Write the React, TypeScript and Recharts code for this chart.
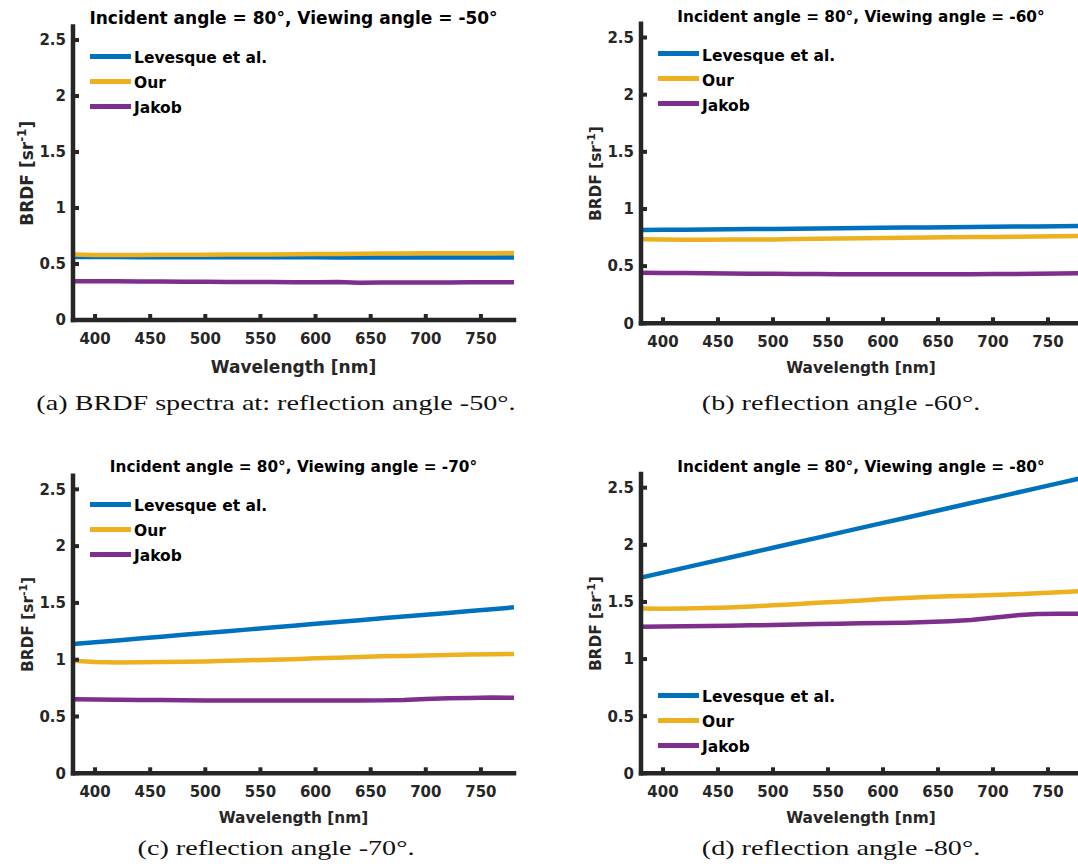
import React from "react";
import { LineChart, Line, XAxis, YAxis, Legend } from "recharts";

const wavelengths = [
  380, 400, 420, 440, 460, 480, 500, 520, 540, 560, 580, 600, 620, 640, 660,
  680, 700, 720, 740, 760, 780,
];

// viewing angle -50°
const levesque50 = [
  0.562, 0.562, 0.562, 0.561, 0.561, 0.561, 0.561, 0.56, 0.56, 0.56, 0.56,
  0.56, 0.559, 0.559, 0.559, 0.559, 0.559, 0.558, 0.558, 0.558, 0.558,
];
const our50 = [
  0.584, 0.581, 0.58, 0.581, 0.582, 0.582, 0.583, 0.584, 0.585, 0.586, 0.588,
  0.589, 0.59, 0.591, 0.593, 0.594, 0.595, 0.596, 0.596, 0.597, 0.598,
];
const jakob50 = [
  0.347, 0.346, 0.345, 0.344, 0.343, 0.342, 0.341, 0.34, 0.339, 0.339, 0.338,
  0.338, 0.339, 0.333, 0.334, 0.334, 0.335, 0.335, 0.336, 0.337, 0.337,
];

// viewing angle -60°
const levesque60 = [
  0.816, 0.818, 0.819, 0.821, 0.823, 0.825, 0.826, 0.828, 0.83, 0.832, 0.834,
  0.835, 0.837, 0.839, 0.84, 0.842, 0.844, 0.846, 0.847, 0.849, 0.851,
];
const our60 = [
  0.735, 0.733, 0.731, 0.731, 0.732, 0.733, 0.734, 0.737, 0.739, 0.741, 0.744,
  0.746, 0.748, 0.75, 0.752, 0.754, 0.756, 0.758, 0.759, 0.761, 0.764,
];
const jakob60 = [
  0.443, 0.441, 0.439, 0.437, 0.435, 0.434, 0.433, 0.432, 0.431, 0.43, 0.429,
  0.429, 0.428, 0.428, 0.429, 0.43, 0.431, 0.432, 0.434, 0.436, 0.437,
];

// viewing angle -70°
const levesque70 = [
  1.138, 1.154, 1.17, 1.186, 1.203, 1.219, 1.235, 1.251, 1.267, 1.283, 1.3,
  1.316, 1.332, 1.348, 1.364, 1.38, 1.396, 1.412, 1.429, 1.445, 1.461,
];
const our70 = [
  0.99, 0.98, 0.975, 0.978, 0.98, 0.982, 0.985, 0.99, 0.995, 1.0, 1.005,
  1.012, 1.018, 1.024, 1.03, 1.032, 1.038, 1.042, 1.045, 1.047, 1.05,
];
const jakob70 = [
  0.652, 0.65, 0.648, 0.646, 0.645, 0.643, 0.641, 0.641, 0.641, 0.64, 0.64,
  0.64, 0.641, 0.641, 0.642, 0.646, 0.655, 0.66, 0.664, 0.667, 0.665,
];

// viewing angle -80°
const levesque80 = [
  1.713, 1.757, 1.8, 1.844, 1.887, 1.931, 1.974, 2.018, 2.061, 2.105, 2.148,
  2.192, 2.235, 2.279, 2.322, 2.366, 2.409, 2.453, 2.496, 2.54, 2.583,
];
const our80 = [
  1.443, 1.44, 1.442, 1.446, 1.452, 1.46, 1.47, 1.48, 1.492, 1.502, 1.512,
  1.525, 1.535, 1.543, 1.55, 1.555, 1.56, 1.568, 1.576, 1.585, 1.595,
];
const jakob80 = [
  1.283, 1.285, 1.287, 1.289, 1.292, 1.295, 1.298, 1.302, 1.306, 1.31, 1.313,
  1.315, 1.318, 1.325, 1.332, 1.342, 1.362, 1.382, 1.394, 1.396, 1.398,
];

const xTicks = [400, 450, 500, 550, 600, 650, 700, 750];
const yTicks = [0, 0.5, 1, 1.5, 2, 2.5];

const seriesNames = ["Levesque et al.", "Our", "Jakob"];
const seriesColors = ["#0072BD", "#EDB120", "#7E2F8E"];

const viewingAngles = [-50, -60, -70, -80];
const captions = [
  "(a) BRDF spectra at: reflection angle -50°.",
  "(b) reflection angle -60°.",
  "(c) reflection angle -70°.",
  "(d) reflection angle -80°.",
];

const SANS = "'DejaVu Sans', sans-serif";
const SERIF = "'Liberation Serif', serif";
const INK = "#262626";
const Y_W = 73;

function rows(lev: number[], our: number[], jak: number[]) {
  return wavelengths.map((wl, i) => ({
    wl,
    lev: lev[i],
    our: our[i],
    jakob: jak[i],
  }));
}

// page-space placement of each subplot
const panels = [
  {
    data: rows(levesque50, our50, jakob50),
    x0: 73, x1: 514, y0: 26.6, y1: 320, top: 0,
    big: true, legendTop: 43.5, titleY: 23.5, capX: 276, capY: 410,
  },
  {
    data: rows(levesque60, our60, jakob60),
    x0: 641, x1: 1081, y0: 23.8, y1: 323.3, top: 0,
    big: false, legendTop: 41, titleY: 22, capX: 841, capY: 410,
  },
  {
    data: rows(levesque70, our70, jakob70),
    x0: 73, x1: 514, y0: 475.7, y1: 773.3, top: 440,
    big: false, legendTop: 491.5, titleY: 472, capX: 276, capY: 855,
  },
  {
    data: rows(levesque80, our80, jakob80),
    x0: 641, x1: 1081, y0: 474, y1: 773.3, top: 440,
    big: false, legendTop: 682.5, titleY: 472, capX: 841, capY: 855,
  },
];

function LegendRows({ payload }: any) {
  // keep the plotting order, not the alphabetical one
  const items = [...(payload ?? [])].sort(
    (a: any, b: any) => seriesNames.indexOf(a.value) - seriesNames.indexOf(b.value)
  );
  return (
    <div>
      {items.map((entry: any) => (
        <div
          key={entry.value}
          style={{ display: "flex", alignItems: "center", height: 25 }}
        >
          <span
            style={{
              display: "inline-block",
              width: 41,
              height: 5,
              background: entry.color,
              marginRight: 3,
            }}
          />
          <span
            style={{
              position: "relative",
              top: 2,
              fontFamily: SANS,
              fontWeight: 700,
              fontSize: 15.5,
              color: "#000",
              whiteSpace: "nowrap",
            }}
          >
            {entry.value}
          </span>
        </div>
      ))}
    </div>
  );
}

function Panel({ p }: { p: (typeof panels)[number] }) {
  const chartLeft = p.x0 - Y_W;
  const chartTop = p.top;
  const width = p.x1 - chartLeft + 10;
  const height = p.y1 - chartTop + 60;
  const plotW = p.x1 - p.x0;
  const plotH = p.y1 - p.y0;
  const py = p.y0 - chartTop;
  const labelSize = p.big ? 17 : 15.4;
  const tickStyle = {
    fill: INK,
    fontSize: 15,
    fontFamily: SANS,
    fontWeight: 700,
  };
  const axisLine = {
    stroke: INK,
    strokeWidth: 4.5,
    strokeLinecap: "square" as const,
  };
  const tickLine = { stroke: INK, strokeWidth: 4 };

  const xLabel = () => (
    <text
      x={Y_W + plotW / 2}
      y={py + plotH + (p.big ? 52.5 : 50)}
      textAnchor="middle"
      fontFamily={SANS}
      fontWeight={700}
      fontSize={labelSize}
      fill={INK}
    >
      Wavelength [nm]
    </text>
  );

  const lx = Y_W - 40;
  const ly = py + plotH / 2;
  const yLabel = () => (
    <text
      transform={`rotate(-90 ${lx} ${ly})`}
      x={lx}
      y={ly}
      textAnchor="middle"
      fontFamily={SANS}
      fontWeight={700}
      fontSize={labelSize}
      fill={INK}
    >
      BRDF [sr
      <tspan dy={-0.42 * labelSize} fontSize={labelSize * 0.7}>
        -1
      </tspan>
      <tspan dy={0.42 * labelSize}>]</tspan>
    </text>
  );

  return (
    <div style={{ position: "absolute", left: chartLeft, top: chartTop }}>
      <LineChart
        width={width}
        height={height}
        data={p.data}
        margin={{ top: py, right: 10, bottom: 0, left: 0 }}
      >
        <XAxis
          type="number"
          dataKey="wl"
          domain={[380, 780]}
          ticks={xTicks}
          interval={0}
          allowDataOverflow
          height={60}
          tickSize={-6}
          tickMargin={19}
          tick={tickStyle}
          axisLine={axisLine}
          tickLine={tickLine}
          label={{ content: xLabel }}
        />
        <YAxis
          type="number"
          domain={[0, 2.62]}
          ticks={yTicks}
          interval={0}
          allowDataOverflow
          width={Y_W}
          tickSize={-6}
          tickMargin={13}
          tick={tickStyle}
          axisLine={axisLine}
          tickLine={tickLine}
          label={{ content: yLabel }}
        />
        <Legend
          layout="vertical"
          align="center"
          verticalAlign="middle"
          content={LegendRows}
          wrapperStyle={{ left: 90 - 73 + Y_W, top: p.legendTop - chartTop }}
        />
        <Line
          type="linear"
          dataKey="lev"
          name={seriesNames[0]}
          stroke={seriesColors[0]}
          strokeWidth={4.5}
          dot={false}
          isAnimationActive={false}
        />
        <Line
          type="linear"
          dataKey="our"
          name={seriesNames[1]}
          stroke={seriesColors[1]}
          strokeWidth={4.5}
          dot={false}
          isAnimationActive={false}
        />
        <Line
          type="linear"
          dataKey="jakob"
          name={seriesNames[2]}
          stroke={seriesColors[2]}
          strokeWidth={4.5}
          dot={false}
          isAnimationActive={false}
        />
      </LineChart>
    </div>
  );
}

export default function App() {
  return (
    <div
      style={{
        position: "absolute",
        left: 0,
        top: 0,
        width: 1078,
        height: 867,
        overflow: "hidden",
        background: "#fff",
      }}
    >
      {panels.map((p, i) => (
        <Panel key={i} p={p} />
      ))}
      <svg
        width={1078}
        height={867}
        style={{ position: "absolute", left: 0, top: 0, pointerEvents: "none" }}
      >
        {panels.map((p, i) => (
          <g key={i}>
            <text
              x={(p.x0 + p.x1) / 2}
              y={p.titleY}
              textAnchor="middle"
              fontFamily={SANS}
              fontWeight={700}
              fontSize={p.big ? 17 : 15.3}
              fill="#000"
            >
              {`Incident angle = 80°, Viewing angle = ${viewingAngles[i]}°`}
            </text>
            <text
              transform={`translate(${p.capX} ${p.capY}) scale(1.28 1)`}
              textAnchor="middle"
              fontFamily={SERIF}
              fontSize={22}
              fill="#111"
            >
              {captions[i]}
            </text>
          </g>
        ))}
      </svg>
    </div>
  );
}
